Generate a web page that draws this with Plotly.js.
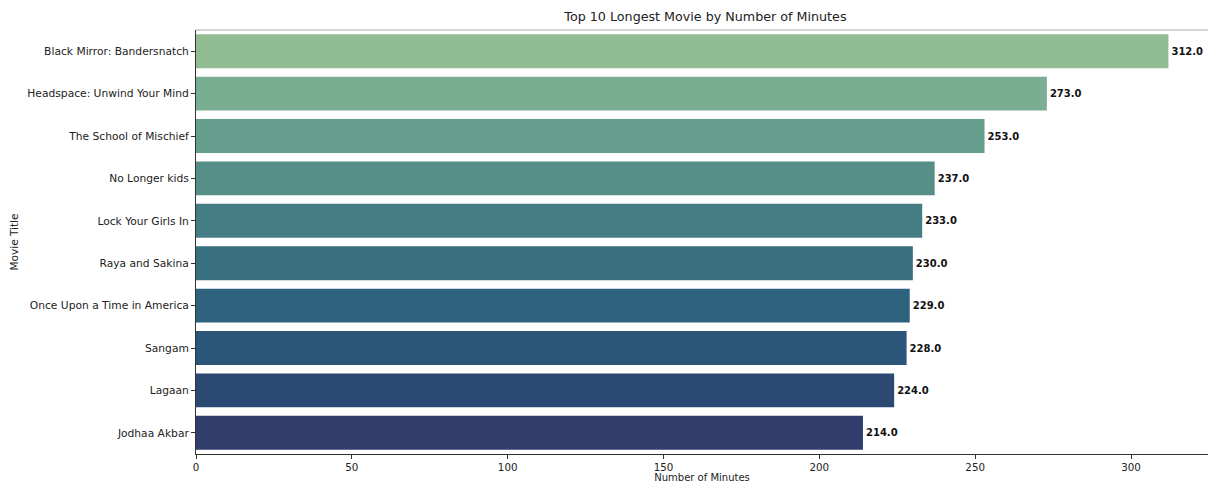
<!DOCTYPE html>
<html><head><meta charset="utf-8">
<script src="https://cdn.plot.ly/plotly-3.0.1.min.js"></script>
<style>html,body{margin:0;padding:0;background:#fff;overflow:hidden}</style>
</head><body>
<div id="chart" style="width:1210px;height:483px"></div>
<script>
var titles = ["Black Mirror: Bandersnatch","Headspace: Unwind Your Mind","The School of Mischief","No Longer kids","Lock Your Girls In","Raya and Sakina","Once Upon a Time in America","Sangam","Lagaan","Jodhaa Akbar"];
var minutes = [312, 273, 253, 237, 233, 230, 229, 228, 224, 214];
var colors = ["#91bc91","#7aae93","#669e8e","#558f88","#447e84","#387080","#2e627e","#2c567a","#2c4973","#323e6c"];
var xTicks = [0, 50, 100, 150, 200, 250, 300];

var trace = {
  type: "bar", orientation: "h",
  x: minutes, y: titles,
  marker: {color: colors},
  width: 0.8,
  text: minutes.map(function(v){return "<b>" + v.toFixed(1) + "</b>";}),
  textposition: "outside", cliponaxis: false,
  textfont: {family: "DejaVu Sans", size: 10, color: "#111"},
  hoverinfo: "x+y"
};
var layout = {
  width: 1210, height: 483,
  margin: {l: 196, r: 2, t: 30, b: 29},
  paper_bgcolor: "#fff", plot_bgcolor: "#fff",
  showlegend: false,
  font: {family: "DejaVu Sans", size: 10.7, color: "#222"},
  title: {text: "Top 10 Longest Movie by Number of Minutes", x: 0.583, xanchor: "center", y: 0.965, yanchor: "middle", font: {size: 12.7, color: "#222"}},
  xaxis: {range: [0, 324.7], tickvals: xTicks, ticktext: xTicks.map(String), showgrid: false, zeroline: false,
    showline: true, linecolor: "#333", linewidth: 1, ticks: "outside", ticklen: 4, tickcolor: "#333",
    title: {text: "Number of Minutes", standoff: 14, font: {size: 10}}, tickfont: {size: 10.3}},
  yaxis: {autorange: "reversed", showgrid: false, zeroline: false, showline: true, linecolor: "#333", linewidth: 1,
    ticks: "outside", ticklen: 4, tickcolor: "#333", tickfont: {size: 10.7},
    title: {text: "Movie Title", standoff: 6, font: {size: 10.5}}},
  shapes: [{type: "line", xref: "paper", yref: "paper", x0: 0, x1: 1, y0: 1, y1: 1, line: {color: "#aaa", width: 1}}]
};
Plotly.newPlot("chart", [trace], layout, {displayModeBar: false, staticPlot: true});
</script>
</body></html>
